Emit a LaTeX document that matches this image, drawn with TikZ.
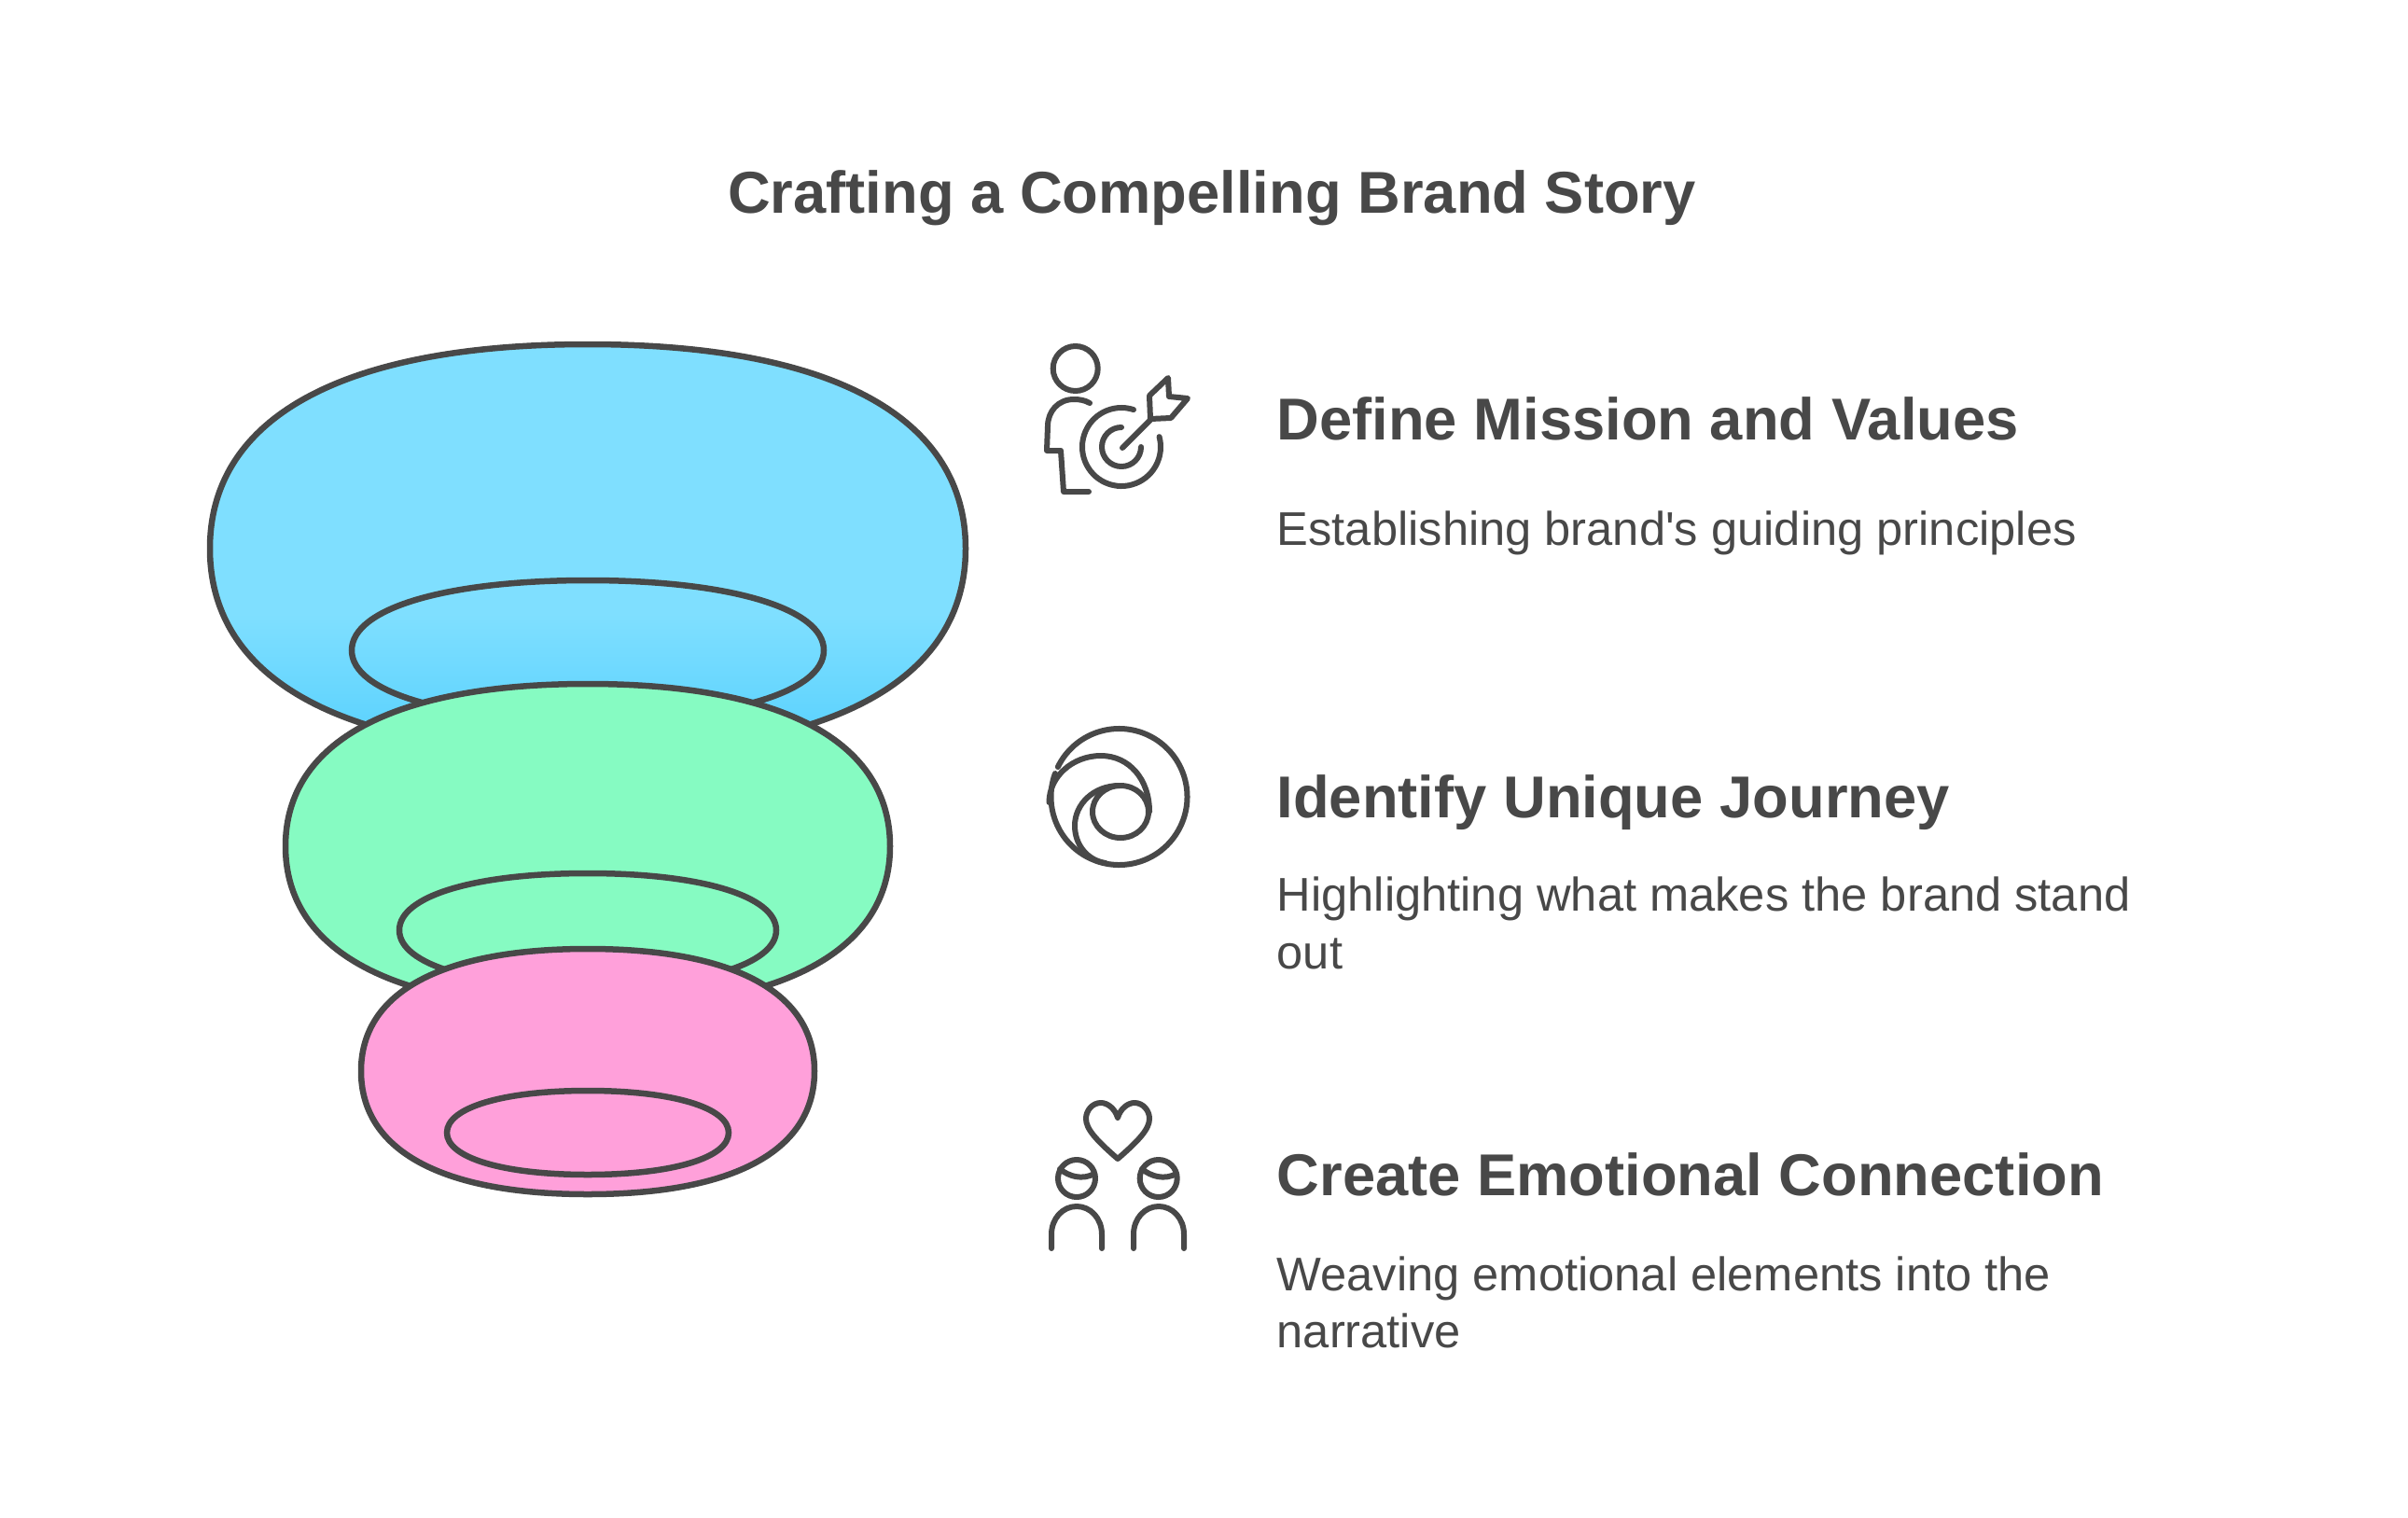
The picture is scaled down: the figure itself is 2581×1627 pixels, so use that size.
\documentclass[tikz,border=0pt]{standalone}
\usepackage{fontspec}
\setmainfont{Liberation Sans}[Ligatures=TeXOff]
\definecolor{inkgray}{HTML}{484848}
\definecolor{bluelight}{HTML}{7FDFFF}
\definecolor{bluedark}{HTML}{5BD2FE}
\definecolor{mintfill}{HTML}{86FBC2}
\definecolor{pinkfill}{HTML}{FFA0DA}
\pgfdeclareverticalshading{blueshade}{100bp}{color(0bp)=(bluedark); color(27bp)=(bluedark); color(42bp)=(bluelight); color(100bp)=(bluelight)}
% cx, cy, half width, half height up, half height down, roundness
\newcommand{\blobpath}[6]{({#1-#3},#2) .. controls ({#1-#3},{#2-#6*#4}) and ({#1-#6*#3},{#2-#4}) .. (#1,{#2-#4}) .. controls ({#1+#6*#3},{#2-#4}) and ({#1+#3},{#2-#6*#4}) .. ({#1+#3},#2) .. controls ({#1+#3},{#2+#6*#5}) and ({#1+#6*#3},{#2+#5}) .. (#1,{#2+#5}) .. controls ({#1-#6*#3},{#2+#5}) and ({#1-#3},{#2+#6*#5}) .. cycle}
\begin{document}
\begin{tikzpicture}[x=0.01cm,y=-0.01cm,
 blob/.style={draw=inkgray,line width=0.065cm},
 icon/.style={draw=inkgray,line width=0.06cm,line cap=round,line join=round},
 titletext/.style={anchor=base,text=inkgray,font=\fontsize{18pt}{22pt}\selectfont\bfseries,inner sep=0pt},
 headtext/.style={anchor=base west,text=inkgray,font=\fontsize{18pt}{22pt}\selectfont\bfseries,inner sep=0pt},
 desctext/.style={anchor=base west,text=inkgray,font=\fontsize{14.4pt}{17.35pt}\selectfont,align=left,inner sep=0pt}]
\useasboundingbox[fill=white] (0,0) rectangle (2581,1627);

\node[titletext](title) at (1299,228){Crafting a Compelling Brand Story};

% funnel
\draw[blob,shade,shading=blueshade] \blobpath{630}{588}{405}{219}{219}{0.645};
\draw[blob] \blobpath{630}{697}{253}{75}{75}{0.6};
\draw[blob,fill=mintfill] \blobpath{630}{907}{324}{174}{174}{0.645};
\draw[blob] \blobpath{630}{997}{202}{61}{61}{0.6};
\draw[blob,fill=pinkfill] \blobpath{630}{1148}{243}{131}{132}{0.645};
\draw[blob] \blobpath{630}{1214}{151}{45}{45}{0.6};

% first icon
\draw[icon] (1152.7,395) circle[radius=24];
\draw[icon] (1168,432) .. controls (1163,429) and (1157,428) .. (1151,428) .. controls (1134,428) and (1123,441) .. (1123,457) -- (1122,483) -- (1137,483) -- (1140,527) -- (1167,527);
\draw[icon] ([shift={(-72:42)}]1202,479) arc[start angle=-72,end angle=-375,radius=42];
\draw[icon] ([shift={(-90:21)}]1202,479) arc[start angle=-90,end angle=-360,radius=21];
\draw[icon] (1203,480) -- (1233,450);
\draw[icon] (1233,449) -- (1232,424) -- (1252,405) -- (1253,425) -- (1273,427) -- (1255,448) -- cycle;

% second icon
\draw[icon] ([shift={(-154:73)}]1199.5,854) arc[start angle=-154,end angle=200,radius=73];
\draw[icon] (1124.5,860) .. controls (1124.5,832) and (1150,810) .. (1180,810) .. controls (1210,810) and (1232,835) .. (1232,870);
\draw[icon] (1201,870) circle[x radius=30,y radius=28];
\draw[icon] (1200,842) .. controls (1172,842) and (1152,862) .. (1152,885) .. controls (1152,905) and (1165,922) .. (1185,925);

% third icon
\draw[icon] (1198,1198) .. controls (1195,1188) and (1187,1182) .. (1180,1182) .. controls (1171,1182) and (1164,1190) .. (1164,1199) .. controls (1164,1210) and (1175,1222) .. (1198,1242) .. controls (1221,1222) and (1232,1210) .. (1232,1199) .. controls (1232,1190) and (1225,1182) .. (1216,1182) .. controls (1209,1182) and (1201,1188) .. (1198,1198);
\draw[icon] (1154,1263) circle[radius=20];
\draw[icon] (1241.7,1263) circle[radius=20];
\draw[icon] (1136,1253) .. controls (1146,1261) and (1160,1265) .. (1173,1258);
\draw[icon] (1224,1253) .. controls (1234,1261) and (1248,1265) .. (1261,1258);
\draw[icon] (1127,1338) -- (1127,1323) .. controls (1127,1306) and (1139,1293) .. (1154,1293) .. controls (1169,1293) and (1181,1306) .. (1181,1323) -- (1181,1338);
\draw[icon] (1215,1338) -- (1215,1323) .. controls (1215,1306) and (1227,1293) .. (1242,1293) .. controls (1257,1293) and (1269,1306) .. (1269,1323) -- (1269,1338);

\node[headtext](head1) at (1368,471){Define Mission and Values};
\node[desctext](desc1) at (1368,584){Establishing brand's guiding principles};
\node[headtext](head2) at (1368,876){Identify Unique Journey};
\node[desctext](desc2) at (1368,1038){Highlighting what makes the brand stand\\out};
\node[headtext](head3) at (1368,1281){Create Emotional Connection};
\node[desctext](desc3) at (1368,1444){Weaving emotional elements into the\\narrative};
\end{tikzpicture}
\end{document}
